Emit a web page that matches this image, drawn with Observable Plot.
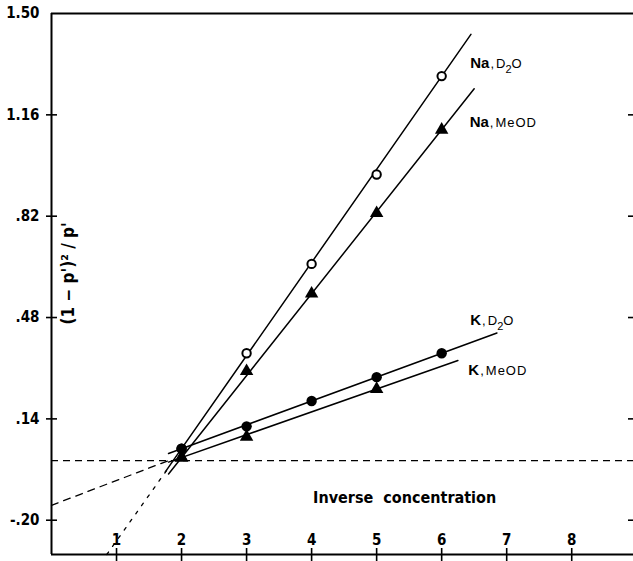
<!DOCTYPE html>
<html><head><meta charset="utf-8">
<script src="https://cdn.jsdelivr.net/npm/d3@7"></script>
<script src="https://cdn.jsdelivr.net/npm/@observablehq/plot@0.6"></script>
<style>
body{margin:0;background:#fff;}
svg{display:block;}
</style></head><body><div id="chart"></div>
<script>
// ---- data ----
const xTicks = [1, 2, 3, 4, 5, 6, 7, 8];
const yTicks = [-0.20, 0.14, 0.48, 0.82, 1.16, 1.50];
const yTickLabels = ["-.20", ".14", ".48", ".82", "1.16", "1.50"];

const conc = [2, 3, 4, 5, 6];
const naD2O = [0.04, 0.36, 0.66, 0.96, 1.29];
const naMeOD = [0.01, 0.30, 0.56, 0.83, 1.11];
const kD2O = [0.04, 0.115, 0.20, 0.28, 0.36];
const kMeODx = [2, 3, 5];
const kMeOD = [0.01, 0.08, 0.24];

// fitted straight lines (end points)
const naD2OFitX = [1.75, 6.45], naD2OFitY = [-0.038, 1.43];
const naMeODFitX = [1.8, 6.5], naMeODFitY = [-0.045, 1.2475];
const kD2OFitX = [1.8, 6.85], kD2OFitY = [0.024, 0.428];
const kMeODFitX = [1.8, 6.25], kMeODFitY = [-0.005, 0.336];
// extrapolations
const kExtX = [0, 1.8], kExtY = [-0.15, 0.0];
const naExtX = [0.85, 1.78], naExtY = [-0.315, -0.03];

const seriesLabels = ["Na,D2O", "Na,MeOD", "K,D2O", "K,MeOD"];
const labelX = [6.44, 6.43, 6.44, 6.41];
const labelY = [1.332, 1.134, 0.470, 0.302];

const yMin = -0.315, yMax = 1.5, xMax = 8.95;
const narrow = "'Liberation Sans Narrow', 'DejaVu Sans Condensed', 'Roboto Condensed', sans-serif";

const plot = Plot.plot({
  width: 633, height: 561,
  marginLeft: 51, marginRight: 0, marginTop: 13, marginBottom: 7,
  x: {domain: [0, xMax], axis: null},
  y: {domain: [yMin, yMax], axis: null},
  style: {background: "#fff", color: "#000"},
  marks: [
    // frame
    Plot.ruleY([yMax], {stroke: "#000", strokeWidth: 2}),
    Plot.ruleY([yMin], {stroke: "#000", strokeWidth: 2}),
    Plot.ruleX([0], {stroke: "#000", strokeWidth: 2}),
    // ticks
    Plot.ruleY(yTicks.slice(0, 5), {x1: 0, x2: 0, insetLeft: -5, insetRight: -6, stroke: "#000", strokeWidth: 1.6}),
    Plot.ruleY(yTicks.slice(0, 5), {x1: xMax, x2: xMax, insetLeft: -5, insetRight: 0, stroke: "#000", strokeWidth: 1.6}),
    Plot.ruleX(xTicks, {y1: yMin, y2: yMin, insetTop: -6, insetBottom: -7, stroke: "#000", strokeWidth: 1.6}),
    // tick labels
    Plot.text(yTicks, {x: 0, y: d => d, text: (d, i) => yTickLabels[i], dx: -12, textAnchor: "end",
      fontFamily: narrow, fontWeight: "bold", fontSize: 15, fill: "#000"}),
    Plot.text(xTicks, {x: d => d, y: yMin, text: d => String(d), dy: -14,
      fontFamily: narrow, fontWeight: "bold", fontSize: 15, fill: "#000"}),
    // axis titles
    Plot.text(["(1 \u2212 p')\u00b2 / p'"], {x: 0.26, y: 0.628, rotate: -90,
      fontFamily: narrow, fontWeight: "bold", fontSize: 17, fill: "#000"}),
    Plot.text(["Inverse\u00a0\u00a0concentration"], {x: 5.43, y: -0.124,
      fontFamily: narrow, fontWeight: "bold", fontSize: 16, fill: "#000", style: {letterSpacing: "1.5px"}}),
    // reference lines
    Plot.ruleY([0], {stroke: "#000", strokeWidth: 1.3, strokeDasharray: "7,5"}),
    Plot.line(kExtX, {x: kExtX, y: kExtY, stroke: "#000", strokeWidth: 1.3, strokeDasharray: "7,6"}),
    Plot.line(naExtX, {x: naExtX, y: naExtY, stroke: "#000", strokeWidth: 1.3, strokeDasharray: "3,7"}),
    // fit lines
    Plot.line(naD2OFitX, {x: naD2OFitX, y: naD2OFitY, stroke: "#000", strokeWidth: 1.5}),
    Plot.line(naMeODFitX, {x: naMeODFitX, y: naMeODFitY, stroke: "#000", strokeWidth: 1.5}),
    Plot.line(kD2OFitX, {x: kD2OFitX, y: kD2OFitY, stroke: "#000", strokeWidth: 1.5}),
    Plot.line(kMeODFitX, {x: kMeODFitX, y: kMeODFitY, stroke: "#000", strokeWidth: 1.5}),
    // data points
    Plot.dot(conc, {x: conc, y: naD2O, r: 4.2, stroke: "#000", strokeWidth: 2, fill: "#fff"}),
    Plot.dot(conc, {x: conc, y: naMeOD, symbol: "triangle", r: 5, fill: "#000", stroke: "none"}),
    Plot.dot(kMeODx, {x: kMeODx, y: kMeOD, symbol: "triangle", r: 5, fill: "#000", stroke: "none"}),
    Plot.dot(conc, {x: conc, y: kD2O, r: 5.2, fill: "#000", stroke: "none"}),
    // series labels
    Plot.text(seriesLabels, {x: labelX, y: labelY, text: d => d, textAnchor: "start",
      fontFamily: "'Liberation Sans', Arial, sans-serif", fontSize: 13, fill: "#000"})
  ]
});

// rich series labels: bold element, regular solvent, subscript 2
d3.select(plot).selectAll("text").each(function() {
  const t = this.textContent;
  if (!seriesLabels.includes(t)) return;
  const [head, tail] = t.split(",");
  const sel = d3.select(this);
  sel.text(null);
  sel.append("tspan").attr("font-weight", "bold").attr("font-size", 15).text(head);
  sel.append("tspan").attr("font-size", 13).attr("dx", 1).text(",");
  if (tail === "D2O") {
    sel.append("tspan").attr("font-size", 13).attr("dx", 2).text("D");
    sel.append("tspan").attr("font-size", 11).attr("dy", 5).text("2");
    sel.append("tspan").attr("font-size", 13).attr("dy", -5).text("O");
  } else {
    sel.append("tspan").attr("font-size", 13).attr("dx", 2).attr("letter-spacing", 1).text(tail);
  }
});

document.getElementById("chart").appendChild(plot);
</script>
</body></html>
